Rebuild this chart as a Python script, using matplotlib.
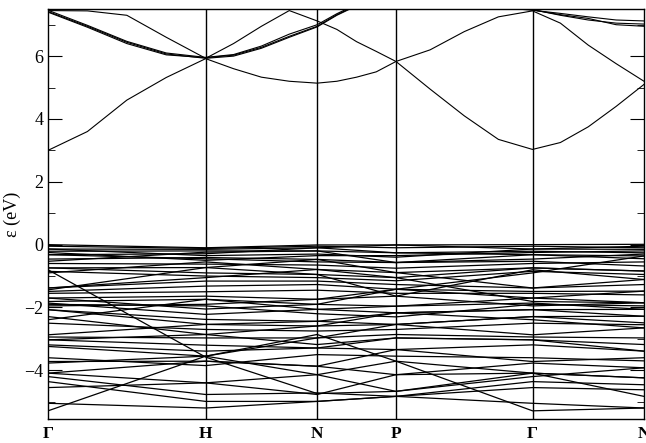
import numpy as np
import matplotlib.pyplot as plt

# High-symmetry path through the bcc Brillouin zone
kpt_labels = ["Γ", "H", "N", "P", "Γ", "N"]
seg_length = [1.0, 0.7071, 0.5, 0.8660, 0.7071]
kpt_pos = np.concatenate([[0.0], np.cumsum(seg_length)])

# Valence bands (eV) at Γ, H, N, P, Γ, N
valence = [
    [0.00, -0.10, -0.01, -0.01, 0.00, 0.01],
    [-0.05, -0.12, -0.05, -0.10, -0.05, -0.10],
    [-0.14, -0.15, -0.10, -0.01, -0.14, -0.05],
    [-0.14, -0.35, -0.30, -0.40, -0.14, -0.15],
    [-0.21, -0.20, -0.20, -0.26, -0.21, -0.26],
    [-0.25, -0.50, -0.35, -0.35, -0.25, -0.20],
    [-0.32, -0.29, -0.10, -0.26, -0.32, -0.36],
    [-0.32, -0.45, -0.55, -0.57, -0.32, -0.45],
    [-0.46, -0.41, -0.47, -0.57, -0.46, -0.30],
    [-0.53, -0.24, -0.20, -0.57, -0.53, -0.68],
    [-0.60, -0.62, -0.65, -0.75, -0.60, -0.55],
    [-0.74, -0.73, -0.47, -0.89, -0.74, -0.84],
    [-0.74, -0.90, -0.95, -1.05, -0.74, -0.84],
    [-0.80, -3.58, -4.74, -4.67, -4.09, -4.83],
    [-0.85, -1.00, -1.05, -1.15, -0.85, -0.95],
    [-0.90, -0.55, -0.79, -1.05, -1.81, -1.85],
    [-1.38, -1.16, -1.16, -1.27, -1.38, -1.27],
    [-1.38, -1.05, -0.79, -0.89, -1.38, -1.11],
    [-1.44, -0.73, -0.95, -1.64, -0.80, -1.11],
    [-1.49, -1.32, -1.27, -1.42, -1.49, -1.48],
    [-1.55, -1.50, -1.45, -1.55, -1.55, -1.60],
    [-1.70, -1.64, -1.74, -1.42, -1.70, -1.48],
    [-1.70, -2.05, -1.90, -1.96, -1.70, -1.85],
    [-1.81, -1.74, -1.90, -1.42, -0.90, -0.36],
    [-1.86, -2.22, -2.06, -1.96, -1.86, -2.06],
    [-1.90, -1.95, -2.20, -2.30, -1.90, -1.95],
    [-1.95, -1.90, -1.74, -1.64, -1.95, -1.85],
    [-2.07, -2.38, -2.44, -2.17, -2.07, -2.28],
    [-2.07, -2.54, -2.59, -2.17, -2.07, -2.06],
    [-2.29, -2.86, -2.59, -2.54, -2.29, -2.49],
    [-2.39, -1.74, -2.06, -2.17, -2.39, -2.65],
    [-2.50, -2.70, -2.75, -2.70, -2.50, -2.55],
    [-2.87, -2.54, -2.44, -2.54, -2.87, -2.65],
    [-2.94, -2.97, -2.97, -2.86, -2.94, -2.97],
    [-3.03, -2.86, -3.18, -2.97, -3.03, -3.18],
    [-3.03, -3.20, -3.29, -2.97, -3.03, -3.39],
    [-3.19, -3.39, -3.29, -3.34, -3.19, -3.39],
    [-3.24, -3.55, -2.97, -2.54, -2.29, -2.28],
    [-3.60, -3.85, -3.50, -3.55, -3.60, -3.70],
    [-3.72, -3.71, -3.87, -3.34, -3.72, -3.60],
    [-3.77, -3.55, -4.14, -4.67, -4.20, -3.92],
    [-4.09, -4.40, -4.14, -3.71, -4.09, -4.24],
    [-4.09, -3.71, -3.87, -4.14, -4.09, -4.24],
    [-4.20, -4.77, -4.72, -4.83, -4.36, -4.46],
    [-4.36, -4.99, -4.99, -4.83, -4.55, -4.62],
    [-4.55, -4.40, -4.77, -4.14, -3.77, -3.92],
    [-5.05, -5.20, -4.99, -4.83, -5.05, -5.20],
    [-5.29, -3.55, -2.86, -3.71, -5.29, -5.20],
]

# Conduction bands (eV), four steps per segment: Γ-H, H-N, N-P, P-Γ, Γ-N
cond_1 = [3.00, 3.60, 4.60, 5.32, 5.92, 5.60, 5.33, 5.20, 5.14, 5.20, 5.33,
          5.50, 5.83, 4.95, 4.10, 3.35, 3.03, 3.25, 3.75, 4.40, 5.10]
cond_2 = [7.45, 7.44, 7.30, 6.60, 5.93, 6.40, 6.95, 7.45, 7.12, 6.85, 6.46,
          6.15, 5.83, 6.20, 6.78, 7.25, 7.44, 7.05, 6.35, 5.76, 5.20]
cond_3 = [7.42, 6.95, 6.44, 6.07, 5.93, 6.00, 6.25, 6.60, 6.93, 7.30, 7.60,
          7.85, 8.05, 7.95, 7.75, 7.55, 7.46, 7.36, 7.25, 7.15, 7.12]
cond_4 = [7.40, 6.92, 6.40, 6.04, 5.95, 6.03, 6.28, 6.63, 6.95, 7.32, 7.62,
          7.87, 8.10, 8.00, 7.80, 7.60, 7.48, 7.30, 7.15, 7.05, 7.02]
cond_5 = [7.46, 6.98, 6.47, 6.10, 5.96, 6.05, 6.32, 6.70, 7.00, 7.35, 7.65,
          7.90, 8.15, 8.05, 7.85, 7.62, 7.47, 7.32, 7.20, 7.00, 6.95]
cond_6 = [7.48, 7.90, 8.30, 8.60, 8.70, 8.50, 8.20, 7.80, 7.60, 7.70, 7.80,
          8.00, 8.10, 8.00, 7.80, 7.60, 7.50, 7.60, 7.70, 7.80, 7.90]
conduction = [cond_1, cond_2, cond_3, cond_4, cond_5, cond_6]

serif = "Liberation Serif"

fig = plt.figure(figsize=(6.46, 4.43), dpi=100)
ax = fig.add_axes([48 / 646, 24 / 443, 596 / 646, 410 / 443])

for band in valence:
    ax.plot(kpt_pos, band, color="black", lw=0.9)

k_fine = np.interp(np.arange(21) / 4, np.arange(len(kpt_pos)), kpt_pos)
for band in conduction:
    ax.plot(k_fine, band, color="black", lw=0.8)

for k in kpt_pos[1:-1]:
    ax.axvline(k, color="black", lw=1.0)

ax.set_xlim(kpt_pos[0], kpt_pos[-1])
ax.set_ylim(-5.55, 7.5)
ax.set_xticks(kpt_pos)
ax.set_xticklabels(kpt_labels, family=serif, fontsize=12.5, fontweight="bold")
ax.set_yticks(np.arange(-4, 7, 2))
ax.set_yticks(np.arange(-5, 8, 2), minor=True)
ax.set_yticklabels([f"{v}" if v >= 0 else f"\u2212{-v}" for v in range(-4, 7, 2)],
                   family=serif, fontsize=13)
ax.tick_params(axis="y", which="major", direction="in", length=10, right=True)
ax.tick_params(axis="y", which="minor", direction="in", length=5, right=True)
ax.tick_params(axis="x", direction="in", length=0, pad=5)
ax.set_ylabel("ε (eV)", family=serif, fontsize=13, labelpad=2)

for spine in ax.spines.values():
    spine.set_linewidth(1.0)

fig.savefig("out.png", dpi=100)
